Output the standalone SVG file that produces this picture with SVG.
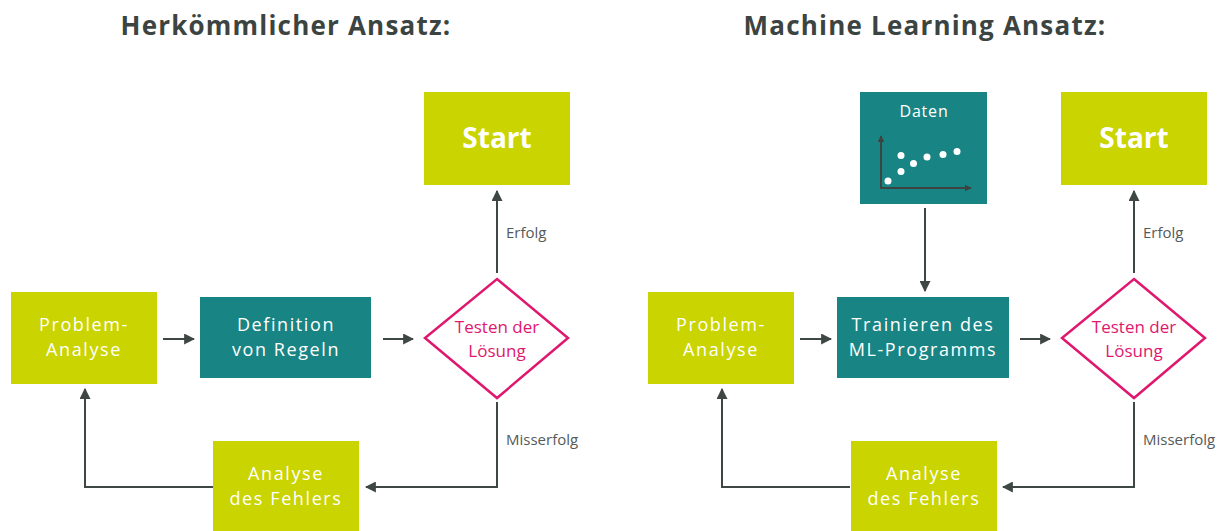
<svg xmlns="http://www.w3.org/2000/svg" width="1230" height="531" viewBox="0 0 1230 531">
<defs>
<style>
.title{font-family:"Open Sans","Noto Sans",sans-serif;font-weight:700;font-size:26px;fill:#3c4442;text-anchor:middle;letter-spacing:1.2px}
.lime{fill:#cad400}
.teal{fill:#198484}
.bt{font-family:"Open Sans","Noto Sans",sans-serif;font-size:18px;fill:#ffffff;text-anchor:middle;letter-spacing:1.6px}
.start{font-family:"Open Sans","Noto Sans",sans-serif;font-weight:700;font-size:28px;fill:#ffffff;text-anchor:middle}
.dia{fill:#ffffff;stroke:#e0176f;stroke-width:2.5}
.dt{font-family:"Open Sans","Noto Sans",sans-serif;font-size:17px;fill:#e0176f;text-anchor:middle}
.lbl{font-family:"Open Sans","Noto Sans",sans-serif;font-size:15px;fill:#555a59}
.con{fill:none;stroke:#3f4745;stroke-width:2}
.ax{fill:none;stroke:#3c4442;stroke-width:2}
</style>
<marker id="ah" viewBox="0 0 10 10" refX="9" refY="5" markerWidth="11" markerHeight="11" markerUnits="userSpaceOnUse" orient="auto">
<path d="M0,0 L10,5 L0,10 z" fill="#3f4745"/>
</marker>
<marker id="ax" viewBox="0 0 10 10" refX="9" refY="5" markerWidth="7" markerHeight="7" markerUnits="userSpaceOnUse" orient="auto">
<path d="M0,0 L10,5 L0,10 z" fill="#3c4442"/>
</marker>
</defs>
<rect width="1230" height="531" fill="#ffffff"/>

<text class="title" x="286" y="35">Herkömmlicher Ansatz:</text>
<text class="title" x="925" y="35">Machine Learning Ansatz:</text>

<g id="connectors">
<line class="con" x1="163" y1="339" x2="194" y2="339" marker-end="url(#ah)"/>
<line class="con" x1="383" y1="339" x2="413" y2="339" marker-end="url(#ah)"/>
<line class="con" x1="497" y1="273" x2="497" y2="191" marker-end="url(#ah)"/>
<polyline class="con" points="497,402 497,487 366,487" marker-end="url(#ah)"/>
<polyline class="con" points="213,487 85,487 85,389" marker-end="url(#ah)"/>

<line class="con" x1="800" y1="339" x2="831" y2="339" marker-end="url(#ah)"/>
<line class="con" x1="1020" y1="339" x2="1050" y2="339" marker-end="url(#ah)"/>
<line class="con" x1="925" y1="208" x2="925" y2="291" marker-end="url(#ah)"/>
<line class="con" x1="1134" y1="273" x2="1134" y2="191" marker-end="url(#ah)"/>
<polyline class="con" points="1134,402 1134,487 1003,487" marker-end="url(#ah)"/>
<polyline class="con" points="850,487 722,487 722,389" marker-end="url(#ah)"/>

<text class="lbl" x="506" y="238">Erfolg</text>
<text class="lbl" x="506" y="445">Misserfolg</text>
<text class="lbl" x="1143" y="238">Erfolg</text>
<text class="lbl" x="1143" y="445">Misserfolg</text>
</g>

<g id="start-left">
<rect class="lime" x="424" y="92" width="146" height="93"/>
<text class="start" x="497" y="148">Start</text>
</g>
<g id="problem-left">
<rect class="lime" x="11" y="292" width="146" height="92"/>
<text class="bt" x="84" y="331">Problem-</text>
<text class="bt" x="84" y="356">Analyse</text>
</g>
<g id="definition-left">
<rect class="teal" x="200" y="297" width="171" height="81"/>
<text class="bt" x="286" y="331">Definition</text>
<text class="bt" x="286" y="356">von Regeln</text>
</g>
<g id="test-left">
<polygon class="dia" points="497,279 568,338 497,398 425,338"/>
<text class="dt" x="497" y="333">Testen der</text>
<text class="dt" x="497" y="357">Lösung</text>
</g>
<g id="analyse-left">
<rect class="lime" x="213" y="441" width="146" height="90"/>
<text class="bt" x="286" y="480">Analyse</text>
<text class="bt" x="286" y="505">des Fehlers</text>
</g>

<g id="daten">
<rect class="teal" x="860" y="92" width="127" height="112"/>
<text class="bt" x="924" y="117" style="font-size:16px;letter-spacing:0.8px">Daten</text>
<line class="ax" x1="881" y1="188" x2="881" y2="136" marker-end="url(#ax)"/>
<line class="ax" x1="880" y1="188" x2="971" y2="188" marker-end="url(#ax)"/>
<g fill="#ffffff">
<circle cx="888" cy="181" r="3.5"/>
<circle cx="901" cy="171.5" r="3.5"/>
<circle cx="901" cy="155.5" r="3.5"/>
<circle cx="913.5" cy="163.5" r="3.5"/>
<circle cx="927" cy="157" r="3.5"/>
<circle cx="943" cy="154.5" r="3.5"/>
<circle cx="957" cy="151.5" r="3.5"/>
</g>
</g>
<g id="start-right">
<rect class="lime" x="1061" y="92" width="146" height="93"/>
<text class="start" x="1134" y="148">Start</text>
</g>
<g id="problem-right">
<rect class="lime" x="648" y="292" width="146" height="92"/>
<text class="bt" x="721" y="331">Problem-</text>
<text class="bt" x="721" y="356">Analyse</text>
</g>
<g id="trainieren">
<rect class="teal" x="837" y="297" width="172" height="81"/>
<text class="bt" x="923" y="331">Trainieren des</text>
<text class="bt" x="923" y="356">ML-Programms</text>
</g>
<g id="test-right">
<polygon class="dia" points="1134,279 1205,338 1134,398 1062,338"/>
<text class="dt" x="1134" y="333">Testen der</text>
<text class="dt" x="1134" y="357">Lösung</text>
</g>
<g id="analyse-right">
<rect class="lime" x="851" y="441" width="146" height="90"/>
<text class="bt" x="924" y="480">Analyse</text>
<text class="bt" x="924" y="505">des Fehlers</text>
</g>
</svg>
